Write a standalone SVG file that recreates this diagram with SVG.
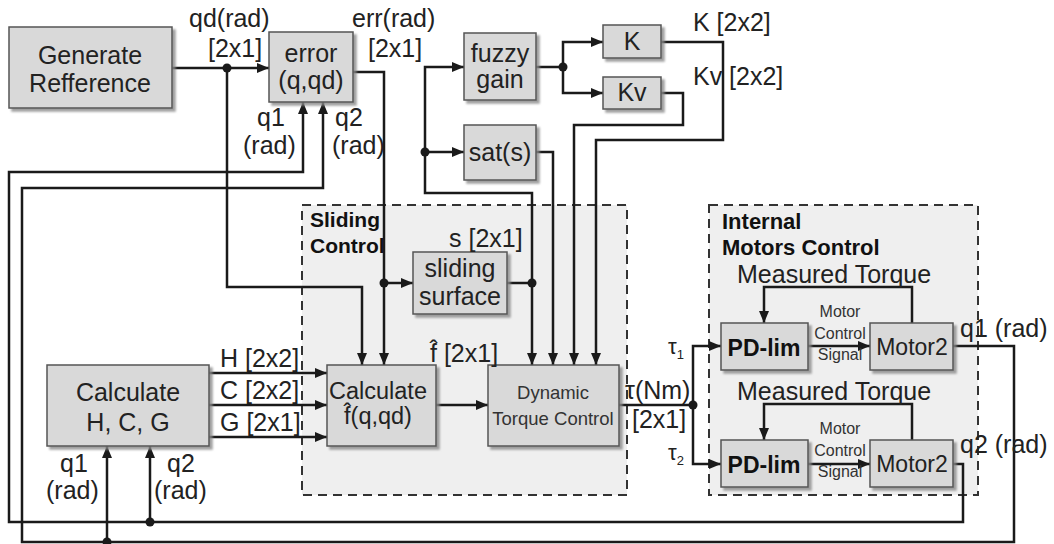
<svg xmlns="http://www.w3.org/2000/svg" width="1054" height="544" viewBox="0 0 1054 544">
<style>
.t{font-family:"Liberation Sans",Arial,sans-serif;font-size:25px;fill:#222}
.m{text-anchor:middle}
.b{font-family:"Liberation Sans",Arial,sans-serif;font-size:21px;font-weight:bold;fill:#111}
.s{font-family:"Liberation Sans",Arial,sans-serif;font-size:16px;fill:#333;text-anchor:middle}
.dt{font-family:"Liberation Sans",Arial,sans-serif;font-size:18.5px;fill:#333;text-anchor:middle}
.box{fill:#d9d9d9;stroke:#555;stroke-width:1.5;filter:url(#sh)}
.reg{fill:#efefef;stroke:#333;stroke-width:2;stroke-dasharray:9,6}
.c{fill:none;stroke:#1a1a1a;stroke-width:2.5}
.a{marker-end:url(#ah)}
.dot{fill:#1a1a1a}
</style>
<defs>
<filter id="sh" x="-10%" y="-10%" width="130%" height="130%">
<feDropShadow dx="3" dy="3" stdDeviation="1.2" flood-color="#888" flood-opacity="0.8"/>
</filter>
<marker id="ah" viewBox="0 0 12 10" refX="12" refY="5" markerWidth="12" markerHeight="10" markerUnits="userSpaceOnUse" orient="auto">
<path d="M0,0 L12,5 L0,10 z" fill="#1a1a1a"/>
</marker>
</defs>
<rect width="1054" height="544" fill="#fff"/>

<g id="sliding-control">
<rect class="reg" x="302" y="205" width="325" height="290"/>
<text class="b" x="310" y="227">Sliding</text>
<text class="b" x="310" y="253">Control</text>
</g>
<g id="internal-motors-control">
<rect class="reg" x="709" y="205" width="269" height="290"/>
<text class="b" x="722" y="229" style="font-size:22px">Internal</text>
<text class="b" x="722" y="255" style="font-size:22px">Motors Control</text>
</g>

<g id="connectors">
<path class="c a" d="M172,68 H269"/>
<path class="c a" d="M227,68 V287 H362 V365"/>
<path class="c a" d="M353,72 H384 V365"/>
<path class="c a" d="M384,283 H413"/>
<path class="c a" d="M507,283 H532 V365"/>
<path class="c a" d="M532,283 V193 H425 V67 H464"/>
<path class="c a" d="M425,152 H464"/>
<path class="c a" d="M536,67 H563 V42 H603"/>
<path class="c a" d="M563,67 V93 H603"/>
<path class="c a" d="M661,42 H723 V140 H596 V365"/>
<path class="c a" d="M661,93 H683 V125 H574 V365"/>
<path class="c a" d="M536,152 H553 V365"/>
<path class="c a" d="M209,373 H327"/>
<path class="c a" d="M209,405 H327"/>
<path class="c a" d="M209,437 H327"/>
<path class="c a" d="M436,405 H488"/>
<path class="c" d="M619,405 H693"/>
<path class="c a" d="M693,405 V346 H721"/>
<path class="c a" d="M693,405 V464 H721"/>
<path class="c a" d="M808,346 H870"/>
<path class="c a" d="M808,464 H870"/>
<path class="c a" d="M912,323 V287 H764 V323"/>
<path class="c a" d="M912,440 V404 H764 V440"/>
<path class="c a" d="M953,346 H1014 V542 H22 V188 H323 V102"/>
<path class="c a" d="M953,464 H963 V522 H9 V172 H303 V102"/>
<path class="c a" d="M107,542 V446"/>
<path class="c a" d="M150,522 V446"/>
<circle class="dot" cx="227" cy="68" r="4.5"/>
<circle class="dot" cx="384" cy="283" r="4.5"/>
<circle class="dot" cx="532" cy="283" r="4.5"/>
<circle class="dot" cx="425" cy="152" r="4.5"/>
<circle class="dot" cx="563" cy="67" r="4.5"/>
<circle class="dot" cx="693" cy="405" r="4.5"/>
<circle class="dot" cx="107" cy="542" r="4.5"/>
<circle class="dot" cx="150" cy="522" r="4.5"/>
</g>

<g id="generate-refference">
<rect class="box" x="9" y="27" width="163" height="81"/>
<text class="t m" x="90" y="64">Generate</text>
<text class="t m" x="90" y="92">Refference</text>
</g>
<g id="error">
<rect class="box" x="269" y="32" width="84" height="70"/>
<text class="t m" x="311" y="62">error</text>
<text class="t m" x="311" y="89">(q,qd)</text>
</g>
<g id="fuzzy-gain">
<rect class="box" x="464" y="33" width="72" height="67"/>
<text class="t m" x="500" y="62">fuzzy</text>
<text class="t m" x="500" y="88">gain</text>
</g>
<g id="sat">
<rect class="box" x="464" y="125" width="72" height="55"/>
<text class="t m" x="500" y="161">sat(s)</text>
</g>
<g id="k">
<rect class="box" x="603" y="25" width="58" height="33"/>
<text class="t m" x="632" y="50">K</text>
</g>
<g id="kv">
<rect class="box" x="603" y="77" width="58" height="32"/>
<text class="t m" x="632" y="101">Kv</text>
</g>
<g id="sliding-surface">
<rect class="box" x="413" y="252" width="94" height="62"/>
<text class="t m" x="460" y="277">sliding</text>
<text class="t m" x="460" y="305">surface</text>
</g>
<g id="calculate-hcg">
<rect class="box" x="47" y="365" width="162" height="81"/>
<text class="t m" x="128" y="401">Calculate</text>
<text class="t m" x="128" y="431">H, C, G</text>
</g>
<g id="calculate-f">
<rect class="box" x="327" y="365" width="109" height="81"/>
<text class="t m" x="378" y="399" style="font-size:23.5px">Calculate</text>
<text class="t m" x="378" y="424" style="font-size:23.5px">f̂(q,qd)</text>
</g>
<g id="dynamic-torque-control">
<rect class="box" x="488" y="365" width="131" height="81"/>
<text class="dt" x="553" y="399">Dynamic</text>
<text class="dt" x="553" y="425">Torque Control</text>
</g>
<g id="pd-lim-1">
<rect class="box" x="721" y="323" width="87" height="47"/>
<text class="b m" x="764" y="356" style="font-size:23px">PD-lim</text>
</g>
<g id="motor2-1">
<rect class="box" x="870" y="323" width="83" height="47"/>
<text class="t m" x="912" y="355" style="font-size:23px">Motor2</text>
</g>
<g id="pd-lim-2">
<rect class="box" x="721" y="440" width="87" height="47"/>
<text class="b m" x="764" y="473" style="font-size:23px">PD-lim</text>
</g>
<g id="motor2-2">
<rect class="box" x="870" y="440" width="83" height="47"/>
<text class="t m" x="912" y="472" style="font-size:23px">Motor2</text>
</g>

<g id="labels">
<text class="t" x="189" y="27">qd(rad)</text>
<text class="t" x="208" y="57">[2x1]</text>
<text class="t" x="352" y="27">err(rad)</text>
<text class="t" x="368" y="57">[2x1]</text>
<text class="t" x="257" y="126">q1</text>
<text class="t" x="243" y="154">(rad)</text>
<text class="t" x="335" y="126">q2</text>
<text class="t" x="332" y="154">(rad)</text>
<text class="t" x="693" y="31">K [2x2]</text>
<text class="t" x="693" y="85">Kv [2x2]</text>
<text class="t" x="449" y="247">s [2x1]</text>
<text class="t" x="430" y="362">f̂ [2x1]</text>
<text class="t" x="220" y="367">H [2x2]</text>
<text class="t" x="220" y="399">C [2x2]</text>
<text class="t" x="220" y="431">G [2x1]</text>
<text class="t" x="60" y="472">q1</text>
<text class="t" x="46" y="499">(rad)</text>
<text class="t" x="167" y="472">q2</text>
<text class="t" x="154" y="499">(rad)</text>
<text class="t" x="625" y="399">τ(Nm)</text>
<text class="t" x="632" y="428">[2x1]</text>
<text class="t" x="668" y="354" style="font-size:22px">τ<tspan style="font-size:13px" dy="5">1</tspan></text>
<text class="t" x="668" y="460" style="font-size:22px">τ<tspan style="font-size:13px" dy="5">2</tspan></text>
<text class="t" x="737" y="283">Measured Torque</text>
<text class="t" x="737" y="400">Measured Torque</text>
<text class="s" x="840" y="317">Motor</text>
<text class="s" x="840" y="339">Control</text>
<text class="s" x="840" y="360">Signal</text>
<text class="s" x="840" y="434">Motor</text>
<text class="s" x="840" y="456">Control</text>
<text class="s" x="840" y="477">Signal</text>
<text class="t" x="960" y="337">q1 (rad)</text>
<text class="t" x="960" y="453">q2 (rad)</text>
</g>
</svg>
